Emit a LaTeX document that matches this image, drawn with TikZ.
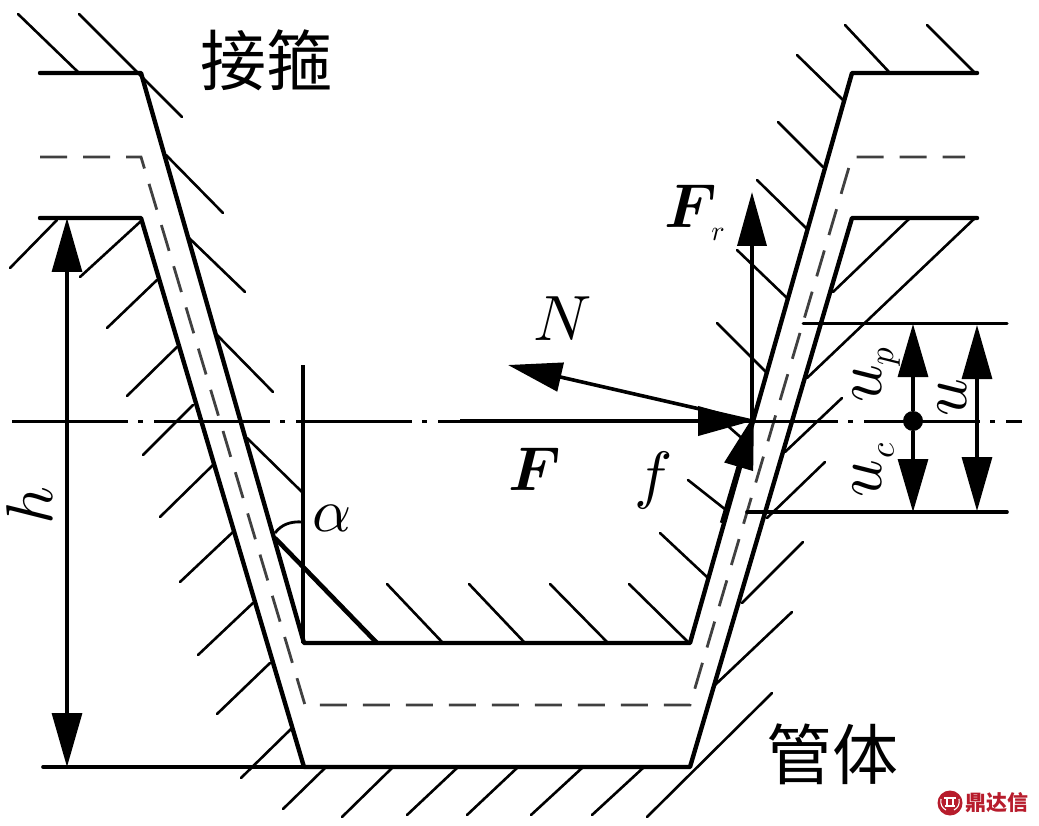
\documentclass[tikz,border=0pt]{standalone}
\usepackage{fontspec}
\usepackage{xcolor}
\usetikzlibrary{arrows.meta}
\newfontfamily\zhfont{Noto Sans CJK SC}
\definecolor{logoRed}{HTML}{B71C2C}
\tikzset{
  x=1pt, y=-1pt,
  contour/.style={line width=4.4pt, line cap=round, line join=round},
  pitchline/.style={line width=2.8pt, black!75, dash pattern=on 27pt off 16pt},
  hatch/.style={line width=2.6pt, line cap=round},
  axisline/.style={line width=3pt, dash pattern=on 116pt off 10pt on 5pt off 11pt},
  force/.style={line width=3.6pt, -{Triangle[width=29pt, length=54pt]}},
  dimarrow/.style={line width=3.2pt, {Triangle[width=30pt, length=54pt]}-{Triangle[width=30pt, length=54pt]}},
  dimline/.style={line width=3.6pt, line cap=round},
  zhlabel/.style={inner sep=0pt, font=\zhfont\fontsize{66}{66}\selectfont},
  mathlabel/.style={inner sep=0pt, scale=6.4},
  boldlabel/.style={inner sep=0pt, scale=6.2, font=\boldmath},
  rotlabel/.style={inner sep=0pt, rotate=90, scale=6.6},
  sublabel/.style={inner sep=0pt, scale=3.5},
  logotext/.style={inner sep=0pt, text=logoRed, font=\zhfont\bfseries\fontsize{21}{21}\selectfont},
  logomark/.style={white, line width=1.1pt}
}
\begin{document}
\begin{tikzpicture}
    \useasboundingbox (0,0) rectangle (1039,826);

    \draw[contour] (40,73) -- (141,73) -- (304,643) -- (690,643) -- (852,73) -- (977,73);
    \draw[contour] (40,218) -- (141,218) -- (304,767) -- (690,767) -- (852,218) -- (977,218);
    \draw[pitchline] (40,157) -- (141,157) -- (305,705) -- (690,705) -- (852,157) -- (965,157);

    \foreach \xa/\ya/\xb/\yb in {
      18/14/78/72, 79/14/182/117, 166/155/223/213, 188/237/245/292,
      217/335/273/392, 247/438/302/492, 387/584/443/643, 469/584/525/643,
      550/584/608/643, 629/584/688/642, 845/25/890/73, 927/25/975/73,
      797/55/843/100, 778/122/823/167, 757/180/806/228, 737/250/787/298,
      717/323/766/372, 729/427/745/441, 688/480/726/510, 660/533/707/577,
      57/220/10/268, 140/222/80/277, 157/280/107/328, 177/347/127/396,
      193/405/143/455, 213/465/160/517, 233/532/180/582, 253/603/198/655,
      270/663/217/714, 292/728/241/778, 325/768/283/809, 392/768/342/817,
      457/768/407/815, 517/768/467/815, 582/768/531/815, 643/768/592/815,
      772/693/647/817,
      910/218/833/292, 975/218/807/378, 842/398/785/452, 825/462/767/518,
      803/542/742/603, 792/612/715/685
    } \draw[hatch] (\xa,\ya) -- (\xb,\yb);

    \draw[axisline] (12,421) -- (1022,421);

    \coordinate (forcept) at (752,421);
    \coordinate (updim) at (913,324);
    \coordinate (lowdim) at (913,512);
    \coordinate (hightop) at (67,218);
    \coordinate (highbot) at (67,767);

    \draw[line width=3.4pt] (303,365) -- (303,643);
    \draw[line width=4.6pt] (275,538) -- (377,643);
    \draw[line width=2.8pt] (275,533) .. controls (281,525) and (290,521) .. (303,522);

    \draw[force, line width=4pt] (460,421) -- (forcept);
    \draw[force] (forcept) -- (508,365);
    \draw[force] (forcept) -- (752,192);
    \draw[force, line width=4.4pt] (722,523) -- (754,415);

    \draw[dimarrow] (hightop) -- (highbot);
    \draw[dimline] (43,767) -- (304,767);
    \draw[dimline, line width=3pt] (803,324) -- (1007,324);
    \draw[dimline] (747,512) -- (1007,512);
    \node[circle, fill, inner sep=0pt, minimum size=20pt] (midpt) at (913,421) {};
    \draw[force, line width=3.2pt, -{Triangle[width=30pt, length=53pt]}] (midpt) -- (updim);
    \draw[force, line width=3.2pt, -{Triangle[width=30pt, length=53pt]}] (midpt) -- (lowdim);
    \draw[dimarrow] (977,325) -- (977,511);

    \node[zhlabel] (collar) at (266,60) {接箍};
    \node[zhlabel] (pipe) at (832,754) {管体};

    \node[boldlabel] (flabel) at (535,469) {$F$};
    \node[mathlabel] (nlabel) at (563,319) {$N$};
    \node[boldlabel] (frlabel) at (691,206) {$F$};
    \node[sublabel, scale=0.8] (rlabel) at (718,234) {$r$};
    \node[mathlabel] (smallf) at (654,480) {$f$};
    \node[mathlabel, scale=0.95] (alabel) at (332,518) {$\alpha$};
    \node[rotlabel] (hlabel) at (30,505) {$h$};
    \node[rotlabel] (ulabel) at (952,398) {$u$};
    \node[rotlabel] (uplabel) at (867,384) {$u$};
    \node[sublabel, rotate=90] (plabel) at (889,357) {$p$};
    \node[rotlabel] (uclabel) at (867,479) {$u$};
    \node[sublabel, rotate=90] (clabel) at (886,451) {$c$};

    \node[circle, fill=logoRed, inner sep=0pt, minimum size=25pt] (logo) at (950,803) {};
    \draw[logomark] (944,798) -- (956,798);
    \draw[logomark] (941,799) .. controls (940,804) and (942,808) .. (946,810);
    \draw[logomark] (959,799) .. controls (960,804) and (958,808) .. (954,810);
    \draw[logomark] (947,799) -- (947,805) (953,799) -- (953,805) (945,806) -- (955,806);
    \node[logotext] (logoname) at (997,803) {鼎达信};
\end{tikzpicture}
\end{document}
